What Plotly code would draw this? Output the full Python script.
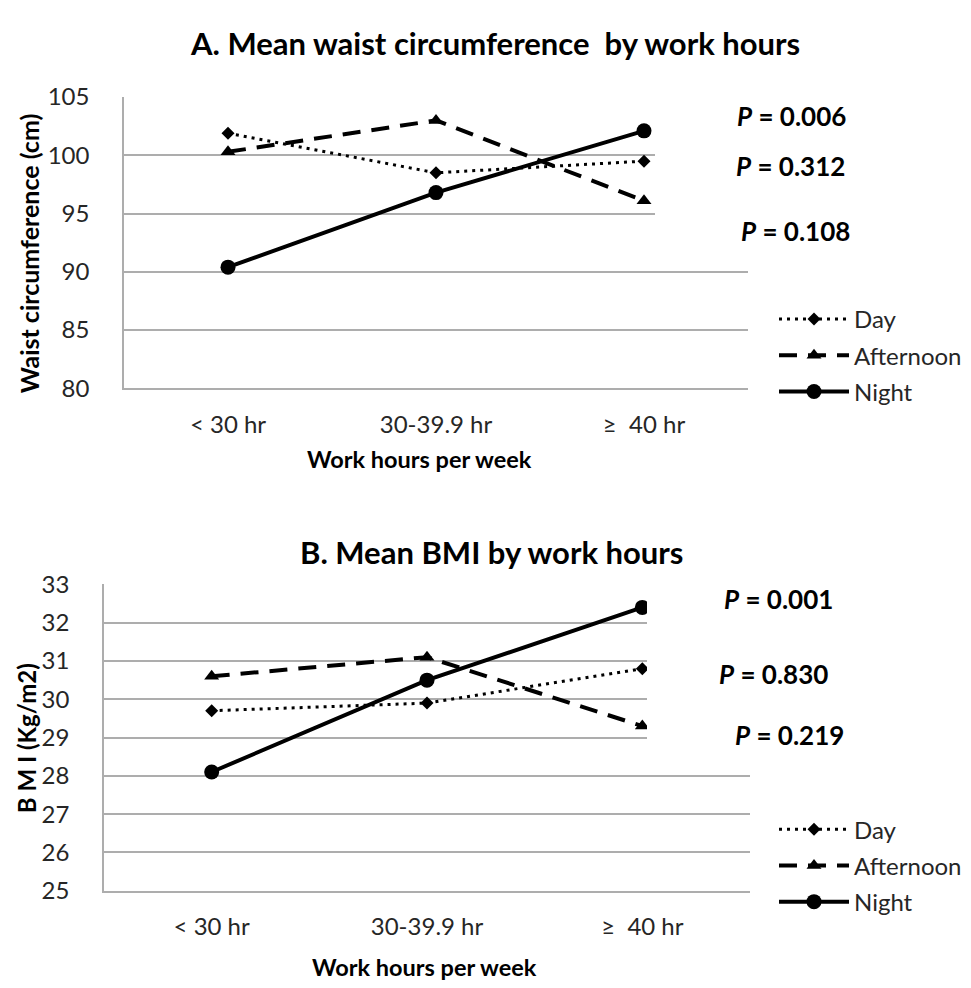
import plotly.graph_objects as go

# ---------------- data ----------------
categories = ["< 30 hr", "30-39.9 hr", "≥  40 hr"]

waist_day = [101.9, 98.5, 99.5]
waist_afternoon = [100.3, 103.0, 96.1]
waist_night = [90.4, 96.8, 102.1]

bmi_day = [29.7, 29.9, 30.8]
bmi_afternoon = [30.6, 31.1, 29.3]
bmi_night = [28.1, 30.5, 32.4]

waist_ticks = [80, 85, 90, 95, 100, 105]
bmi_ticks = [25, 26, 27, 28, 29, 30, 31, 32, 33]

p_waist = ["0.006", "0.312", "0.108"]
p_bmi = ["0.001", "0.830", "0.219"]

series_names = ["Day", "Afternoon", "Night"]

# ---------------- layout helpers ----------------
W, H = 971, 988
FONT = "Lato, 'Open Sans', sans-serif"
GRID = "#ADADAD"
TXT = "#262626"


def px(x):
    return x / W


def py(y):
    return 1 - y / H


styles = {
    "Day": dict(line=dict(color="black", width=3, dash="3px,5px"),
                marker=dict(symbol="diamond", size=10, color="black")),
    "Afternoon": dict(line=dict(color="black", width=4, dash="18px,11px"),
                      marker=dict(symbol="triangle-up", size=13, color="black")),
    "Night": dict(line=dict(color="black", width=4, dash="solid"),
                  marker=dict(symbol="circle", size=15, color="black")),
}

fig = go.Figure()

panelA = [waist_day, waist_afternoon, waist_night]
panelB = [bmi_day, bmi_afternoon, bmi_night]

for name, vals in zip(series_names, panelA):
    fig.add_trace(go.Scatter(x=categories, y=vals, name=name, mode="lines+markers",
                             xaxis="x", yaxis="y", legend="legend",
                             legendgroup="A" + name, **styles[name]))
for name, vals in zip(series_names, panelB):
    fig.add_trace(go.Scatter(x=categories, y=vals, name=name, mode="lines+markers",
                             xaxis="x2", yaxis="y2", legend="legend2",
                             legendgroup="B" + name, **styles[name]))

axis_common = dict(showline=True, linecolor=GRID, linewidth=1.5,
                   tickfont=dict(family=FONT, size=24, color=TXT))

legend_common = dict(xanchor="left", yanchor="top",
                     font=dict(family=FONT, size=24, color=TXT), itemwidth=70,
                     tracegroupgap=2, bgcolor="rgba(0,0,0,0)")

fig.update_layout(
    width=W, height=H,
    margin=dict(l=0, r=0, t=0, b=0),
    paper_bgcolor="white", plot_bgcolor="white",
    font=dict(family=FONT, color=TXT),
    xaxis=dict(domain=[px(116), px(740)], anchor="y", type="category",
               range=[-0.5, 2.5], showgrid=False, ticks="",
               ticklabelstandoff=14, **axis_common),
    yaxis=dict(domain=[py(376), py(76)], anchor="x", range=[80, 105.02],
               tickvals=waist_ticks, showgrid=True, gridcolor=GRID, gridwidth=1.5,
               zeroline=False, ticks="", ticklabelstandoff=28, **axis_common),
    xaxis2=dict(domain=[px(96), px(742)], anchor="y2", type="category",
                range=[-0.5, 2.5], showgrid=False, ticks="",
                ticklabelstandoff=14, **axis_common),
    yaxis2=dict(domain=[py(893), py(577)], anchor="x2", range=[25, 33.02],
                tickvals=bmi_ticks, showgrid=True, gridcolor=GRID, gridwidth=1.5,
                zeroline=False, ticks="", ticklabelstandoff=28, **axis_common),
    legend=dict(x=px(766), y=py(282), **legend_common),
    legend2=dict(x=px(766), y=py(807), **legend_common),
)

# white boxes behind the P-value labels (cover the grid at the upper right)
fig.add_shape(type="rect", xref="paper", yref="paper", layer="above",
              x0=px(647), x1=px(765), y0=py(64), y1=py(236),
              fillcolor="white", line=dict(width=0))
fig.add_shape(type="rect", xref="paper", yref="paper", layer="above",
              x0=px(639), x1=px(765), y0=py(566), y1=py(755),
              fillcolor="white", line=dict(width=0))

annotations = []
# titles
annotations.append(dict(text="<b>A. Mean waist circumference  by work hours</b>",
                        x=px(487), y=py(21), font=dict(size=31)))
annotations.append(dict(text="<b>B. Mean BMI by work hours</b>",
                        x=px(484), y=py(544), font=dict(size=31)))
# axis titles
annotations.append(dict(text="<b>Work hours per week</b>", x=px(411), y=py(449),
                        font=dict(size=23.5)))
annotations.append(dict(text="<b>Work hours per week</b>", x=px(416), y=py(972),
                        font=dict(size=23.5)))
annotations.append(dict(text="<b>Waist circumference (cm)</b>", x=px(21), y=py(237),
                        textangle=-90, font=dict(size=25)))
annotations.append(dict(text="<b>B M I (Kg/m2)</b>", x=px(18), y=py(736),
                        textangle=-90, font=dict(size=24)))
# P values
for p, (cx, cy) in zip(p_waist, [(783, 96), (782, 147), (787, 214)]):
    annotations.append(dict(text=f"<b><i>P</i> = {p}</b>", x=px(cx), y=py(cy),
                            font=dict(size=26)))
for p, (cx, cy) in zip(p_bmi, [(770, 593), (765, 670), (781, 733)]):
    annotations.append(dict(text=f"<b><i>P</i> = {p}</b>", x=px(cx), y=py(cy),
                            font=dict(size=26)))

for a in annotations:
    a.update(xref="paper", yref="paper", showarrow=False,
             xanchor="center", yanchor="middle")
    a["font"].update(family=FONT, color="black")
fig.update_layout(annotations=annotations)

fig.write_html("out.html")
